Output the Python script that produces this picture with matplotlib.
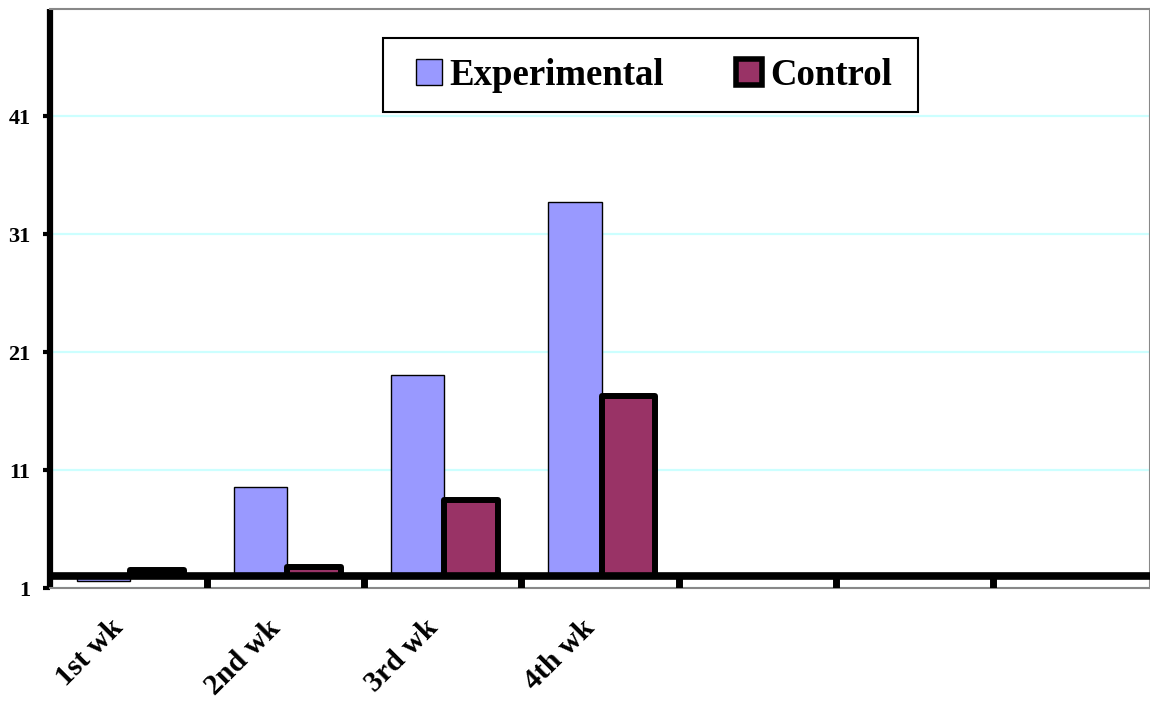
import numpy as np
import matplotlib.pyplot as plt
from matplotlib.patches import Patch, Rectangle

# === Data ===
weeks = ["1st wk", "2nd wk", "3rd wk", "4th wk"]
n_slots = 7
experimental = [1.6, 9.6, 19.1, 33.7]
control = [2.5, 2.8, 8.5, 17.3]
y_ticks = [1, 11, 21, 31, 41]
axis_cross = 2  # where the category axis crosses the value axis

exp_color = "#9999ff"
ctl_color = "#993366"
serif = "Liberation Serif"

fig = plt.figure(figsize=(11.5, 7.01), dpi=100)
ax = fig.add_axes([50 / 1150, 113 / 701, 1100 / 1150, 579 / 701])

x = np.arange(len(weeks)) + 0.5
w = 0.34
exp_h = [v - axis_cross for v in experimental]
ctl_h = [v - axis_cross for v in control]

ax.bar(x - w / 2 + 0.01, exp_h, w, bottom=axis_cross, color=exp_color,
       edgecolor="black", linewidth=1.0, zorder=3)
ax.bar(x + w / 2 + 0.01, ctl_h, w, bottom=axis_cross, color=ctl_color,
       edgecolor="black", linewidth=4.3, joinstyle="round", zorder=3)

ax.set_xlim(0, n_slots)
ax.set_ylim(1, 50.1)

# grid and category axis
ax.set_yticks(y_ticks)
ax.yaxis.grid(True, color="#ccffff", linewidth=1.6, zorder=0)
ax.axhline(axis_cross, color="black", linewidth=5.5, zorder=4)
ax.vlines(np.arange(1, n_slots), 1, axis_cross, color="black", linewidth=5, zorder=4)

ax.set_xticks(x)
ax.set_xticklabels(weeks, rotation=45, ha="right", va="top",
                   fontsize=21.5, fontweight="bold", family=serif)
ax.tick_params(axis="x", length=0, pad=19)
ax.tick_params(axis="y", length=5, width=3, direction="out", pad=9)
for lab in ax.get_yticklabels():
    lab.set_fontsize(16)
    lab.set_fontweight("bold")
    lab.set_family(serif)

ax.spines["left"].set_linewidth(4.5)
ax.spines["left"].set_color("black")
ax.spines["left"].set_capstyle("butt")
for s in ["top", "right", "bottom"]:
    ax.spines[s].set_color("#888888")
    ax.spines[s].set_linewidth(1.5)

# legend box drawn by hand so its size matches the original
ax.add_patch(Rectangle((0.303, 0.822), 0.486, 0.128, transform=ax.transAxes,
                       facecolor="white", edgecolor="black", linewidth=1.5,
                       zorder=5))
handles = [Patch(facecolor=exp_color, edgecolor="black", linewidth=1.0),
           Patch(facecolor=ctl_color, edgecolor="black", linewidth=4.0)]
leg = ax.legend(handles, ["Experimental", "Control"], ncol=2,
                loc="center", bbox_to_anchor=(0.549, 0.886),
                frameon=False, handlelength=0.7, handleheight=0.7,
                handletextpad=0.22, columnspacing=1.95, borderaxespad=0,
                prop={"family": serif, "weight": "bold", "size": 26.5})
leg.set_zorder(6)

fig.savefig("out.png", dpi=100)
